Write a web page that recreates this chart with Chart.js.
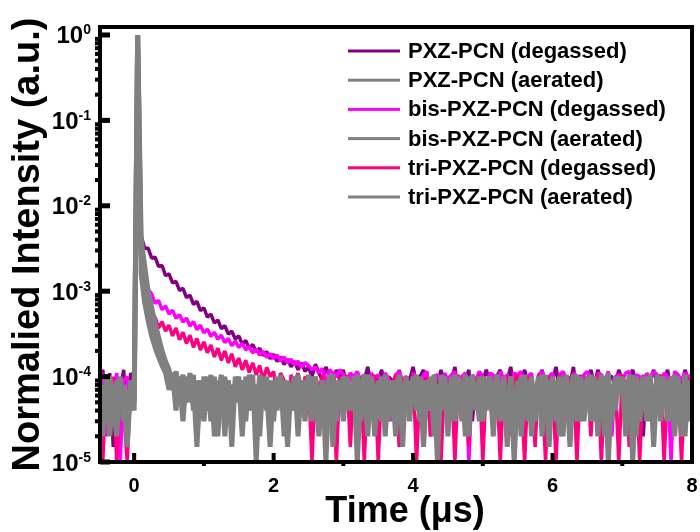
<!DOCTYPE html>
<html>
<head>
<meta charset="utf-8">
<script src="https://cdn.jsdelivr.net/npm/chart.js@4/dist/chart.umd.min.js"></script>
<style>
  body { margin: 0; background: #fff; }
  canvas { display: block; }
</style>
</head>
<body>
<canvas id="myChart" width="700" height="532"></canvas>
<script>
// time axis (us), one sample every 0.05 us
var time = [
  -0.5,-0.45,-0.4,-0.35,-0.3,-0.25,-0.2,-0.15,-0.1,-0.05,
  0,0.05,0.1,0.15,0.2,0.25,0.3,0.35,0.4,0.45,
  0.5,0.55,0.6,0.65,0.7,0.75,0.8,0.85,0.9,0.95,
  1,1.05,1.1,1.15,1.2,1.25,1.3,1.35,1.4,1.45,
  1.5,1.55,1.6,1.65,1.7,1.75,1.8,1.85,1.9,1.95,
  2,2.05,2.1,2.15,2.2,2.25,2.3,2.35,2.4,2.45,
  2.5,2.55,2.6,2.65,2.7,2.75,2.8,2.85,2.9,2.95,
  3,3.05,3.1,3.15,3.2,3.25,3.3,3.35,3.4,3.45,
  3.5,3.55,3.6,3.65,3.7,3.75,3.8,3.85,3.9,3.95,
  4,4.05,4.1,4.15,4.2,4.25,4.3,4.35,4.4,4.45,
  4.5,4.55,4.6,4.65,4.7,4.75,4.8,4.85,4.9,4.95,
  5,5.05,5.1,5.15,5.2,5.25,5.3,5.35,5.4,5.45,
  5.5,5.55,5.6,5.65,5.7,5.75,5.8,5.85,5.9,5.95,
  6,6.05,6.1,6.15,6.2,6.25,6.3,6.35,6.4,6.45,
  6.5,6.55,6.6,6.65,6.7,6.75,6.8,6.85,6.9,6.95,
  7,7.05,7.1,7.15,7.2,7.25,7.3,7.35,7.4,7.45,
  7.5,7.55,7.6,7.65,7.7,7.75,7.8,7.85,7.9,7.95,
  8
];

var pxzDegassed = [
  9e-5,12e-5,4e-5,11e-5,1.5e-5,10e-5,7e-5,12e-5,2e-5,11e-5,
  9e-5,1.0,4.5e-3,3.15e-3,3.2e-3,2.45e-3,2.5e-3,1.95e-3,2.0e-3,1.52e-3,
  1.6e-3,1.25e-3,1.3e-3,1.02e-3,1.08e-3,8.4e-4,9.0e-4,7.0e-4,7.6e-4,5.9e-4,
  6.4e-4,4.95e-4,5.4e-4,4.25e-4,4.6e-4,3.65e-4,3.95e-4,3.15e-4,3.4e-4,2.75e-4,
  3.0e-4,2.4e-4,2.65e-4,2.12e-4,2.38e-4,1.95e-4,2.15e-4,1.76e-4,1.96e-4,1.62e-4,
  1.82e-4,1.5e-4,1.7e-4,1.38e-4,1.6e-4,1.3e-4,1.52e-4,1.2e-4,1.45e-4,1.15e-4,
  13e-5,10e-5,14e-5,11e-5,9e-5,13e-5,10e-5,8e-5,12e-5,9e-5,
  12e-5,7e-5,11e-5,9e-5,5e-5,10e-5,9e-5,13e-5,8e-5,10e-5,
  9e-5,12e-5,6e-5,10e-5,9e-5,4e-5,12e-5,8e-5,10e-5,9e-5,
  13e-5,8e-5,10e-5,12e-5,5e-5,9e-5,10e-5,8e-5,12e-5,7e-5,
  10e-5,9e-5,13e-5,6e-5,10e-5,9e-5,12e-5,3e-5,9e-5,10e-5,
  9e-5,12e-5,9e-5,5e-5,10e-5,12e-5,8e-5,9e-5,13e-5,7e-5,
  10e-5,9e-5,12e-5,8e-5,10e-5,4e-5,9e-5,12e-5,8e-5,10e-5,
  9e-5,13e-5,7e-5,10e-5,10e-5,8e-5,13e-5,6e-5,9e-5,10e-5,
  9e-5,12e-5,8e-5,12e-5,9e-5,5e-5,10e-5,10e-5,8e-5,12e-5,
  9e-5,7e-5,10e-5,12e-5,8e-5,10e-5,2e-5,10e-5,9e-5,12e-5,
  8e-5,10e-5,9e-5,12e-5,6e-5,10e-5,10e-5,8e-5,12e-5,9e-5,
  11e-5
];

var pxzAerated = [
  6e-5,3e-5,9e-5,2e-5,8e-5,4e-5,10e-5,3e-5,7e-5,5e-5,
  6e-5,1.0,4.0e-3,2.0e-3,1.0e-3,6.5e-4,4.2e-4,2.9e-4,2.0e-4,1.5e-4,
  12e-5,8e-5,11.5e-5,6e-5,10.5e-5,5e-5,11e-5,4e-5,9e-5,3.5e-5,
  10e-5,4e-5,10.5e-5,2e-5,9e-5,5e-5,10e-5,3e-5,8e-5,6e-5,
  9e-5,2e-5,10e-5,4e-5,8e-5,3e-5,10.5e-5,5e-5,7e-5,1.5e-5,
  9e-5,4e-5,10e-5,3e-5,8e-5,6e-5,10e-5,2e-5,9e-5,5e-5,
  10.5e-5,3e-5,8e-5,5e-5,9e-5,1e-5,10e-5,4e-5,7e-5,9e-5,
  3e-5,10e-5,5e-5,8e-5,2e-5,9e-5,6e-5,10.5e-5,3e-5,8e-5,
  5e-5,10e-5,2e-5,9e-5,4e-5,8e-5,10e-5,3e-5,9e-5,6e-5,
  10e-5,4e-5,8e-5,1.5e-5,9e-5,5e-5,10.5e-5,3e-5,7e-5,9e-5,
  2e-5,10e-5,6e-5,8e-5,3e-5,10.5e-5,4e-5,9e-5,5e-5,10e-5,
  3e-5,8e-5,10e-5,2e-5,9e-5,5e-5,10e-5,4e-5,8e-5,1e-5,
  9e-5,5e-5,10.5e-5,3e-5,8e-5,6e-5,10e-5,2e-5,9e-5,4e-5,
  10e-5,3e-5,8e-5,5e-5,10.5e-5,1.5e-5,9e-5,6e-5,10e-5,3e-5,
  8e-5,4e-5,10e-5,2e-5,9e-5,5e-5,11e-5,3e-5,8e-5,6e-5,
  10e-5,2e-5,9e-5,5e-5,10e-5,3e-5,8e-5,4e-5,10.5e-5,1.5e-5,
  9e-5,5e-5,10e-5,3e-5,8e-5,6e-5,10e-5,2e-5,9e-5,4e-5,
  8e-5
];

var bisDegassed = [
  8e-5,11e-5,2e-5,10e-5,6e-5,11e-5,1e-5,9e-5,10e-5,4e-5,
  10e-5,1.0,3.0e-3,1.5e-3,1.05e-3,9.3e-4,7.2e-4,7.8e-4,6.1e-4,6.7e-4,
  5.4e-4,6.0e-4,4.8e-4,5.3e-4,4.35e-4,4.85e-4,3.9e-4,4.4e-4,3.55e-4,4.0e-4,
  3.25e-4,3.6e-4,2.95e-4,3.3e-4,2.75e-4,3.05e-4,2.5e-4,2.8e-4,2.3e-4,2.6e-4,
  2.2e-4,2.45e-4,2.05e-4,2.25e-4,1.9e-4,2.1e-4,1.78e-4,1.98e-4,1.68e-4,1.86e-4,
  1.62e-4,1.8e-4,1.52e-4,1.7e-4,1.44e-4,1.6e-4,1.36e-4,1.52e-4,1.28e-4,1.46e-4,
  13.5e-5,12e-5,13e-5,11e-5,12.5e-5,8e-5,12e-5,11e-5,10e-5,12e-5,
  10.5e-5,6e-5,11e-5,10e-5,11.5e-5,9e-5,10.5e-5,4e-5,11e-5,9.5e-5,
  10.5e-5,8e-5,11e-5,9.5e-5,3e-5,10.5e-5,11.5e-5,9e-5,10e-5,6e-5,
  11e-5,9.5e-5,7e-5,10.5e-5,11.5e-5,2e-5,10e-5,10.5e-5,8e-5,11e-5,
  9e-5,10.5e-5,11.5e-5,5e-5,10e-5,11e-5,1e-5,10.5e-5,9e-5,11.5e-5,
  10e-5,7e-5,11e-5,10.5e-5,4e-5,11.5e-5,9.5e-5,10.5e-5,6e-5,11e-5,
  10.5e-5,11.5e-5,8e-5,10e-5,11e-5,3e-5,10.5e-5,11.5e-5,9e-5,10e-5,
  11e-5,6e-5,10.5e-5,11.5e-5,9.5e-5,1.5e-5,11e-5,10e-5,8e-5,10.5e-5,
  11.5e-5,9.5e-5,5e-5,11e-5,10.5e-5,9e-5,11.5e-5,2e-5,10e-5,10.5e-5,
  9e-5,11e-5,11.5e-5,7e-5,10.5e-5,10e-5,4e-5,11e-5,9.5e-5,11.5e-5,
  10.5e-5,8e-5,11e-5,10e-5,1e-5,11.5e-5,10.5e-5,9e-5,11e-5,9.5e-5,
  10.5e-5
];

var bisAerated = [
  4e-5,8e-5,3e-5,10e-5,5e-5,2e-5,9e-5,6e-5,1.5e-5,8e-5,
  4e-5,1.0,2.6e-3,1.2e-3,6.5e-4,4.2e-4,2.8e-4,2.0e-4,1.5e-4,1.2e-4,
  9e-5,11e-5,6e-5,10e-5,4e-5,9e-5,5e-5,10.5e-5,2e-5,8e-5,
  3e-5,9e-5,5e-5,10e-5,2e-5,8e-5,4e-5,9e-5,1.5e-5,10e-5,
  5e-5,9e-5,3e-5,10.5e-5,6e-5,8e-5,2e-5,10e-5,4e-5,9e-5,
  3e-5,10e-5,5e-5,9e-5,1.5e-5,8e-5,4e-5,10.5e-5,6e-5,9e-5,
  4e-5,10e-5,6e-5,2e-5,9e-5,5e-5,8e-5,10.5e-5,3e-5,9e-5,
  6e-5,9e-5,4e-5,10e-5,1e-5,8e-5,10.5e-5,5e-5,9e-5,2e-5,
  9e-5,6e-5,10.5e-5,3e-5,8e-5,5e-5,9e-5,1.5e-5,10e-5,4e-5,
  6e-5,10.5e-5,3e-5,9e-5,5e-5,10e-5,2e-5,8e-5,4e-5,10e-5,
  5e-5,9e-5,3e-5,10e-5,6e-5,8e-5,2e-5,10.5e-5,4e-5,9e-5,
  8e-5,4e-5,9e-5,6e-5,10.5e-5,3e-5,9e-5,1.5e-5,10e-5,5e-5,
  3e-5,10e-5,6e-5,9e-5,2e-5,8e-5,4e-5,10.5e-5,5e-5,9e-5,
  6e-5,9e-5,2e-5,10e-5,4e-5,8e-5,5e-5,10.5e-5,3e-5,9e-5,
  5e-5,10.5e-5,3e-5,9e-5,6e-5,10e-5,1e-5,8e-5,4e-5,10e-5,
  6e-5,9e-5,4e-5,10.5e-5,2e-5,9e-5,5e-5,10e-5,3e-5,8e-5,
  4e-5,10e-5,6e-5,9e-5,3e-5,10.5e-5,5e-5,8e-5,2e-5,9e-5,
  6e-5
];

var triDegassed = [
  5e-5,1e-5,9e-5,3e-5,10e-5,1e-5,7e-5,4e-5,1e-5,8e-5,
  7e-5,1.0,1.5e-3,7.0e-4,6.2e-4,4.4e-4,5.0e-4,3.7e-4,4.4e-4,3.4e-4,
  4.0e-4,3.0e-4,3.7e-4,2.7e-4,3.3e-4,2.45e-4,3.05e-4,2.2e-4,2.8e-4,2.05e-4,
  2.55e-4,1.9e-4,2.35e-4,1.7e-4,2.15e-4,1.55e-4,2.0e-4,1.45e-4,1.85e-4,1.3e-4,
  1.65e-4,1.2e-4,1.55e-4,1.12e-4,1.45e-4,1.05e-4,1.35e-4,9e-5,1.28e-4,1.0e-4,
  11.5e-5,6e-5,11e-5,9e-5,2e-5,10.5e-5,8e-5,11e-5,4e-5,10e-5,
  9e-5,1e-5,10e-5,7e-5,10.5e-5,2e-5,9e-5,8e-5,1e-5,10e-5,
  6e-5,10.5e-5,1.5e-5,9e-5,8e-5,10e-5,1e-5,9e-5,7e-5,10.5e-5,
  1e-5,9e-5,10e-5,3e-5,8e-5,10.5e-5,1.5e-5,9e-5,10e-5,5e-5,
  10.5e-5,1e-5,9e-5,8e-5,10e-5,2e-5,10.5e-5,7e-5,1e-5,9e-5,
  8e-5,10e-5,1e-5,10.5e-5,6e-5,9e-5,1.5e-5,10e-5,8e-5,10.5e-5,
  1e-5,9e-5,10e-5,4e-5,10.5e-5,1e-5,8e-5,10e-5,2e-5,9e-5,
  10.5e-5,7e-5,1e-5,10e-5,9e-5,1.5e-5,10.5e-5,8e-5,1e-5,10e-5,
  9e-5,1e-5,10.5e-5,8e-5,3e-5,10e-5,9e-5,1e-5,10.5e-5,7e-5,
  10e-5,2e-5,9e-5,10.5e-5,1e-5,8e-5,10e-5,5e-5,9e-5,1e-5,
  10.5e-5,8e-5,1.5e-5,10e-5,9e-5,1e-5,10.5e-5,7e-5,10e-5,2e-5,
  9e-5,10.5e-5,1e-5,8e-5,10e-5,3e-5,9e-5,1e-5,10.5e-5,8e-5,
  10e-5
];

var triAerated = [
  7e-5,2e-5,10e-5,5e-5,3e-5,9e-5,4e-5,8e-5,2e-5,9e-5,
  5e-5,1.0,1.6e-3,7.5e-4,4.5e-4,3.0e-4,2.2e-4,1.7e-4,1.35e-4,1.1e-4,
  7e-5,10.5e-5,4e-5,9e-5,3e-5,10e-5,6e-5,8e-5,1.5e-5,9e-5,
  5e-5,10e-5,3e-5,8e-5,6e-5,10.5e-5,2e-5,9e-5,4e-5,8e-5,
  10e-5,3e-5,9e-5,5e-5,10.5e-5,1e-5,8e-5,6e-5,10e-5,3e-5,
  8e-5,5e-5,10.5e-5,2e-5,9e-5,4e-5,10e-5,6e-5,8e-5,3e-5,
  9e-5,6e-5,10e-5,3e-5,8e-5,4e-5,10.5e-5,1.5e-5,9e-5,5e-5,
  10e-5,4e-5,8e-5,6e-5,10.5e-5,3e-5,9e-5,2e-5,10e-5,5e-5,
  8e-5,3e-5,10e-5,6e-5,9e-5,2e-5,10.5e-5,5e-5,8e-5,3e-5,
  9e-5,6e-5,10e-5,3e-5,8e-5,4e-5,9e-5,1e-5,10.5e-5,5e-5,
  8e-5,3e-5,10.5e-5,5e-5,9e-5,2e-5,10e-5,6e-5,8e-5,3e-5,
  10e-5,6e-5,8e-5,3e-5,10.5e-5,5e-5,9e-5,2e-5,10e-5,4e-5,
  8e-5,2e-5,9e-5,5e-5,10e-5,3e-5,8e-5,6e-5,10.5e-5,1.5e-5,
  9e-5,5e-5,10e-5,2e-5,8e-5,6e-5,10.5e-5,3e-5,9e-5,5e-5,
  10e-5,3e-5,8e-5,6e-5,10.5e-5,2e-5,9e-5,4e-5,10e-5,6e-5,
  8e-5,4e-5,10.5e-5,1e-5,9e-5,6e-5,10e-5,3e-5,8e-5,5e-5,
  10.5e-5,3e-5,9e-5,6e-5,10e-5,2e-5,8e-5,5e-5,10.5e-5,3e-5,
  9e-5
];

var seriesLabels = [
  "PXZ-PCN (degassed)", "PXZ-PCN (aerated)",
  "bis-PXZ-PCN (degassed)", "bis-PXZ-PCN (aerated)",
  "tri-PXZ-PCN (degassed)", "tri-PXZ-PCN (aerated)"
];
var seriesValues = [pxzDegassed, pxzAerated, bisDegassed, bisAerated, triDegassed, triAerated];
var seriesColors = ["#800080", "#808080", "#ff00ff", "#808080", "#ff0080", "#808080"];
var seriesOrder = [4, 1, 3, 1, 2, 1]; // grey curves on top

var xTickValues = [0, 2, 4, 6, 8];
var xMinorTicks = [1, 3, 5, 7];
var yTickExponents = [0, -1, -2, -3, -4, -5];

var FONT = '"Liberation Sans", Arial, sans-serif';

// axes frame, ticks, labels and the legend box, drawn on top of the curves
var framePlugin = {
  id: 'frame',
  afterDraw: function (chart) {
    var ctx = chart.ctx;
    var a = chart.chartArea;
    var x = chart.scales.x;
    var y = chart.scales.y;
    ctx.save();
    ctx.fillStyle = '#000';
    ctx.strokeStyle = '#000';

    ctx.lineWidth = 4;
    ctx.strokeRect(a.left, a.top, a.right - a.left, a.bottom - a.top);

    // x ticks: major inward, minor outward
    xTickValues.forEach(function (v) {
      var px = x.getPixelForValue(v);
      ctx.fillRect(px - 2, a.bottom - 9, 4, 9);
    });
    xMinorTicks.forEach(function (v) {
      var px = x.getPixelForValue(v);
      ctx.fillRect(px - 2, a.bottom, 4, 4);
    });

    // y ticks
    yTickExponents.forEach(function (e) {
      var py = y.getPixelForValue(Math.pow(10, e));
      ctx.fillRect(a.left, py - 2.5, 10, 5);
    });
    for (var e = -5; e < 0; e++) {
      for (var m = 2; m <= 9; m++) {
        var py = y.getPixelForValue(m * Math.pow(10, e));
        ctx.fillRect(a.left - 5, py - 2, 4, 4);
      }
    }

    // x tick labels
    ctx.font = 'bold 20px ' + FONT;
    ctx.textAlign = 'center';
    ctx.textBaseline = 'alphabetic';
    xTickValues.forEach(function (v) {
      ctx.fillText(String(v), x.getPixelForValue(v), 492);
    });

    // y tick labels 10^n
    yTickExponents.forEach(function (e) {
      var py = y.getPixelForValue(Math.pow(10, e));
      var sup = e === 0 ? '0' : '-' + (-e);
      ctx.font = 'bold 14px ' + FONT;
      var supW = ctx.measureText(sup).width;
      var baseX = 91 - supW;
      ctx.textAlign = 'left';
      ctx.fillText(sup, baseX, py - 0.5);
      ctx.font = 'bold 24px ' + FONT;
      ctx.textAlign = 'right';
      ctx.fillText('10', baseX, py + 8.5);
    });

    // axis titles
    ctx.font = 'bold 36px ' + FONT;
    ctx.textAlign = 'center';
    ctx.fillText('Time (\u03bcs)', 405, 522);

    ctx.save();
    ctx.translate(29, (a.top + a.bottom) / 2);
    ctx.rotate(-Math.PI / 2);
    ctx.font = 'bold 38px ' + FONT;
    ctx.textBaseline = 'middle';
    ctx.fillText('Normalied Intensity (a.u.)', 0, 0);
    ctx.restore();

    // legend
    ctx.font = 'bold 22px ' + FONT;
    ctx.textAlign = 'left';
    ctx.textBaseline = 'middle';
    seriesLabels.forEach(function (label, i) {
      var ly = 51 + i * 29.2;
      ctx.fillStyle = seriesColors[i];
      ctx.fillRect(348, ly - 1.5, 52, 3);
      ctx.fillStyle = '#000';
      ctx.fillText(label, 408, ly + 1);
    });
    ctx.restore();
  }
};

var ctx = document.getElementById('myChart').getContext('2d');
var myChart = new Chart(ctx, {
  type: 'line',
  data: {
    datasets: seriesValues.map(function (vals, i) {
      return {
        label: seriesLabels[i],
        data: time.map(function (t, k) { return { x: t, y: vals[k] }; }),
        borderColor: seriesColors[i],
        backgroundColor: seriesColors[i],
        borderWidth: seriesColors[i] === '#808080' ? 5 : 3.5,
        borderJoinStyle: 'bevel',
        pointRadius: 0,
        tension: 0,
        fill: false,
        order: seriesOrder[i]
      };
    })
  },
  options: {
    responsive: false,
    animation: false,
    devicePixelRatio: 1,
    layout: { padding: { left: 100, top: 27, right: 8, bottom: 70 } },
    scales: {
      x: { type: 'linear', min: -0.49, max: 8, display: false },
      y: { type: 'logarithmic', min: 1e-5, max: 1.24, display: false }
    },
    plugins: {
      legend: { display: false },
      tooltip: { enabled: false }
    }
  },
  plugins: [framePlugin]
});
</script>
</body>
</html>
